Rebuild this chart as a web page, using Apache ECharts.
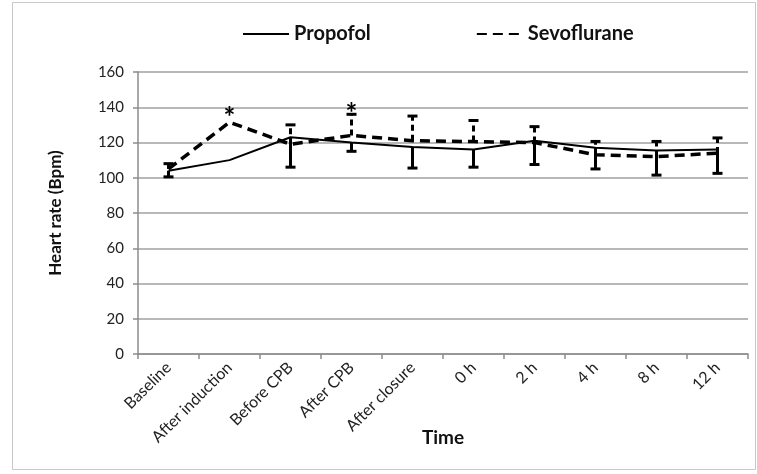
<!DOCTYPE html>
<html>
<head>
<meta charset="utf-8">
<script src="https://cdn.jsdelivr.net/npm/echarts@6/dist/echarts.min.js"></script>
<style>
html,body{margin:0;padding:0;background:#fff;}
#chart{width:757px;height:474px;}
</style>
</head>
<body>
<div id="chart"></div>
<script>
var categories = ['Baseline','After induction','Before CPB','After CPB','After closure','0 h','2 h','4 h','8 h','12 h'];
var propofol = [104, 110, 123, 120, 117.5, 116, 121, 117, 115.5, 116];
var propofolErr = [3.5, 0, 17, 5, 12, 10, 13.5, 12, 14, 13.5];
var sevoflurane = [105, 131.5, 119, 124, 121, 120.5, 120, 113, 112, 114];
var sevofluraneErr = [3, 0, 11, 12, 14, 12, 9, 7.6, 8.6, 8.6];
var asterisks = [[1, 138], [3, 140]];
var yTicks = {min: 0, max: 160, interval: 20};

var chart = echarts.init(document.getElementById('chart'), null, {renderer: 'canvas'});

function errData(vals, errs) {
  return vals.map(function (v, i) { return [i, v, errs[i]]; });
}

function makeErrRender(sign, dashed) {
  return function (params, api) {
    var err = api.value(2);
    if (!err) return null;
    var p0 = api.coord([api.value(0), api.value(1)]);
    var p1 = api.coord([api.value(0), api.value(1) + sign * err]);
    var half = 5;
    return {
      type: 'group',
      children: [
        {type: 'line', shape: {x1: p0[0], y1: p0[1], x2: p1[0], y2: p1[1]},
         style: {stroke: '#000', lineWidth: 3, lineDash: dashed ? [6, 4] : null}},
        {type: 'line', shape: {x1: p1[0] - half, y1: p1[1], x2: p1[0] + half, y2: p1[1]},
         style: {stroke: '#000', lineWidth: 3}}
      ]
    };
  };
}

function starRender(params, api) {
  var p = api.coord([api.value(0), api.value(1)]);
  return {
    type: 'text',
    x: p[0], y: p[1] + 7,
    style: {text: '*', fill: '#000', font: 'bold 28px Lato', textAlign: 'center', textVerticalAlign: 'middle'}
  };
}

var option = {
  backgroundColor: '#fff',
  animation: false,
  textStyle: {fontFamily: 'Lato'},
  graphic: [{
    type: 'rect', silent: true, z: -1,
    shape: {x: 12.5, y: 2.5, width: 743, height: 467},
    style: {fill: 'none', stroke: '#c8c8c8', lineWidth: 1}
  }],
  legend: {
    top: 19,
    left: 237,
    itemWidth: 46,
    itemHeight: 14,
    itemGap: 105,
    itemStyle: {opacity: 0},
    textStyle: {fontSize: 20, fontWeight: 'bold', color: '#111', fontFamily: 'Lato'},
    data: ['Propofol', 'Sevoflurane']
  },
  grid: {left: 138, right: 9, top: 72, bottom: 120, containLabel: false, outerBoundsMode: 'none'},
  xAxis: {
    type: 'category',
    data: categories,
    boundaryGap: true,
    name: 'Time',
    nameLocation: 'middle',
    nameGap: 74,
    nameMoveOverlap: false,
    nameTextStyle: {fontSize: 19, fontWeight: 'bold', color: '#111', fontFamily: 'Lato'},
    axisLine: {lineStyle: {color: '#8c8c8c', width: 1.5}},
    axisTick: {show: true, alignWithLabel: false, length: 5, lineStyle: {color: '#8c8c8c', width: 1.5}},
    axisLabel: {rotate: 45, fontSize: 16, color: '#222', margin: 11, interval: 0, fontFamily: 'Lato'},
    splitLine: {show: false}
  },
  yAxis: {
    type: 'value',
    min: yTicks.min, max: yTicks.max, interval: yTicks.interval,
    name: 'Heart rate (Bpm)',
    nameLocation: 'middle',
    nameGap: 74,
    nameMoveOverlap: false,
    nameRotate: 90,
    nameTextStyle: {fontSize: 17, fontWeight: 'bold', color: '#111', fontFamily: 'Lato'},
    axisLine: {show: true, lineStyle: {color: '#8c8c8c', width: 1.5}},
    axisTick: {show: true, length: 5, lineStyle: {color: '#8c8c8c', width: 1.5}},
    axisLabel: {fontSize: 15, color: '#222', margin: 14, fontFamily: 'Lato'},
    splitLine: {show: true, lineStyle: {color: '#a0a0a0', width: 1.5}}
  },
  series: [
    {
      name: 'Propofol', type: 'line', data: propofol,
      symbol: 'none', smooth: false,
      lineStyle: {color: '#000', width: 2, type: 'solid'},
      itemStyle: {color: '#000'}, z: 3
    },
    {
      name: 'Sevoflurane', type: 'line', data: sevoflurane,
      symbol: 'none', smooth: false,
      lineStyle: {color: '#000', width: 3.5, type: [10, 6]},
      itemStyle: {color: '#000'}, z: 3
    },
    {
      type: 'custom', name: 'Propofol err',
      data: errData(propofol, propofolErr),
      renderItem: makeErrRender(-1, false), z: 4, silent: true
    },
    {
      type: 'custom', name: 'Sevoflurane err',
      data: errData(sevoflurane, sevofluraneErr),
      renderItem: makeErrRender(1, true), z: 4, silent: true
    },
    {
      type: 'custom', name: 'sig', data: asterisks,
      renderItem: starRender, z: 5, silent: true
    }
  ]
};
chart.setOption(option);
</script>
</body>
</html>
